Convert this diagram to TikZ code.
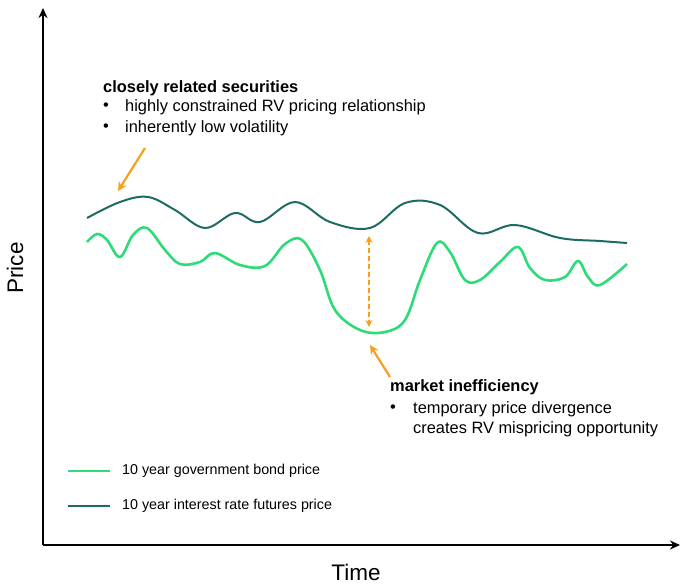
\documentclass[tikz,border=0pt]{standalone}
\usepackage{fontspec}
\setmainfont{Liberation Sans}
\usetikzlibrary{arrows.meta}
\definecolor{fut}{HTML}{1E6B63}
\definecolor{bond}{HTML}{2DDB78}
\definecolor{org}{HTML}{F7A11A}
\begin{document}
\begin{tikzpicture}[x=1pt,y=-1pt,
  lbl/.style={anchor=west,inner sep=0,font=\fontsize{16.4}{18}\selectfont},
  lgd/.style={anchor=west,inner sep=0,font=\fontsize{14.3}{16}\selectfont},
  axis/.style={line width=1.8pt,-{Stealth[length=10pt,width=9pt]}},
  oarr/.style={org,line width=2.2pt,-{Stealth[length=9pt,width=9pt]}}]
\useasboundingbox (0,0) rectangle (685,586);
\coordinate (o) at (43,545);
\coordinate (yt) at (43,8);
\coordinate (xt) at (680,545);
\draw[axis] (o) -- (yt);
\draw[axis] (o) -- (xt);
\node[rotate=90,font=\fontsize{22.5}{26}\selectfont] (price) at (15,268) {Price};
\node[font=\fontsize{22.5}{26}\selectfont] (time) at (356,572) {Time};
\draw[fut,line width=2pt] plot[smooth,tension=0.6] coordinates {(87,218)(120,202)(148,197)(175,210)(205,228)(235,213)(260,222)(295,202)(330,222)(370,228)(405,203)(440,205)(478,233)(515,225)(560,238)(600,241)(627,243)};
\draw[bond,line width=2.6pt] plot[smooth,tension=0.6] coordinates {(87,242)(97,234)(107,240)(120,257)(133,235)(147,228)(165,250)(180,264)(200,262)(215,253)(240,265)(265,266)(285,244)(302,240)(320,270)(335,310)(360,330)(385,332)(405,320)(420,280)(437,243)(450,252)(465,280)(480,280)(500,262)(518,247)(530,268)(545,280)(565,277)(578,261)(588,277)(600,285)(627,264)};
\coordinate (dt) at (369,236);
\coordinate (db) at (369,327);
\draw[org,line width=1.6pt,dash pattern=on 5pt off 3pt,{Stealth[length=7pt,width=7pt]}-{Stealth[length=7pt,width=7pt]}] (dt) -- (db);
\coordinate (a1s) at (145,148); \coordinate (a1e) at (118,191);
\draw[oarr] (a1s) -- (a1e);
\coordinate (a2s) at (390,377); \coordinate (a2e) at (370,345);
\draw[oarr] (a2s) -- (a2e);
\node[lbl,font=\fontsize{16.4}{18}\selectfont\bfseries] (t1) at (103,88) {closely related securities};
\node[lbl] (b1) at (103,107) {•};
\node[lbl] (t2) at (125,107) {highly constrained RV pricing relationship};
\node[lbl] (b2) at (103,128) {•};
\node[lbl] (t3) at (125,128) {inherently low volatility};
\node[lbl,font=\fontsize{16.4}{18}\selectfont\bfseries] (t4) at (390,387) {market inefficiency};
\node[lbl] (b3) at (390,409) {•};
\node[lbl] (t5) at (413,409) {temporary price divergence};
\node[lbl] (t6) at (413,429) {creates RV mispricing opportunity};
\coordinate (l1a) at (68,471); \coordinate (l1b) at (110,471);
\draw[bond,line width=2.6pt] (l1a) -- (l1b);
\node[lgd] (lg1) at (122,471) {10 year government bond price};
\coordinate (l2a) at (68,506); \coordinate (l2b) at (110,506);
\draw[fut,line width=2pt] (l2a) -- (l2b);
\node[lgd] (lg2) at (122,506) {10 year interest rate futures price};
\end{tikzpicture}
\end{document}
